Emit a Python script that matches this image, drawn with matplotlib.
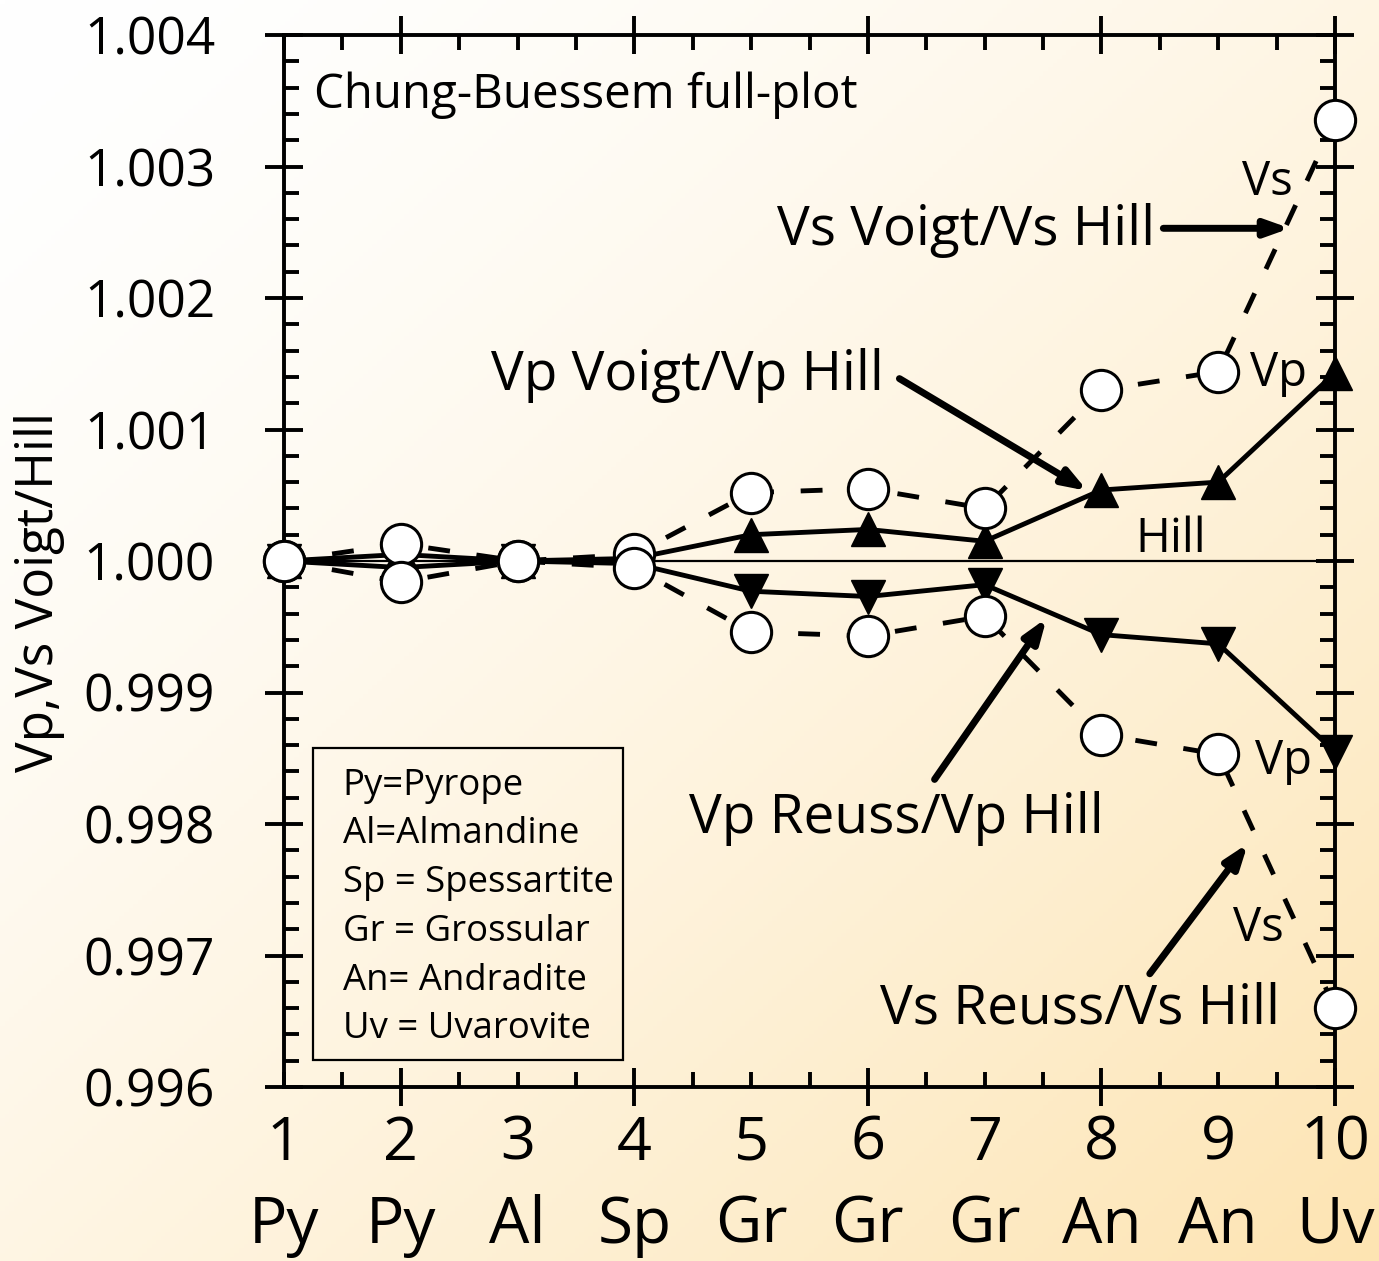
import matplotlib
matplotlib.use("Agg")
import matplotlib.pyplot as plt
import numpy as np
from matplotlib.ticker import MultipleLocator, FormatStrFormatter
from matplotlib.transforms import blended_transform_factory
from matplotlib.patches import Rectangle

plt.rcParams['font.family'] = ['Open Sans', 'DejaVu Sans']

# Garnet end-member sequence
x = [1, 2, 3, 4, 5, 6, 7, 8, 9, 10]
minerals = ['Py', 'Py', 'Al', 'Sp', 'Gr', 'Gr', 'Gr', 'An', 'An', 'Uv']

# Voigt/Hill and Reuss/Hill ratios
vp_voigt = [1.0000, 1.00005, 1.0000, 1.00002, 1.00020, 1.00024, 1.00015, 1.00054, 1.00060, 1.00143]
vp_reuss = [1.0000, 0.99995, 1.0000, 0.99998, 0.99977, 0.99973, 0.99982, 0.99944, 0.99937, 0.99855]
vs_voigt = [1.0000, 1.00013, 1.0000, 1.00005, 1.00052, 1.00055, 1.00040, 1.00130, 1.00144, 1.00335]
vs_reuss = [1.0000, 0.99984, 1.0000, 0.99995, 0.99946, 0.99943, 0.99958, 0.99868, 0.99853, 0.99660]

legend_lines = ['Py=Pyrope', 'Al=Almandine', 'Sp = Spessartite',
                'Gr = Grossular', 'An= Andradite', 'Uv = Uvarovite']

fig = plt.figure(figsize=(13.79, 12.61), dpi=100)

# soft diagonal background wash
bg = fig.add_axes([0, 0, 1, 1], zorder=-10)
gx, gy = np.meshgrid(np.linspace(0, 1, 300), np.linspace(0, 1, 300))
t = np.clip((gx + gy) / 2, 0, 1) ** 1.5
c0 = np.array([255, 255, 255]) / 255
c1 = np.array([253, 228, 178]) / 255
img = c0[None, None, :] * (1 - t[..., None]) + c1[None, None, :] * t[..., None]
bg.imshow(img, aspect='auto', extent=[0, 1, 0, 1], origin='upper')
bg.axis('off')

W, H = 1379, 1261
ax = fig.add_axes([284 / W, 1 - 1087 / H, (1335 - 284) / W, (1087 - 35) / H])
ax.set_facecolor('none')

lw = 3.5
ax.axhline(1.0, color='k', lw=1.6, zorder=2)

ax.plot(x, vp_voigt, '-', color='k', lw=lw, zorder=2)
ax.plot(x, vp_reuss, '-', color='k', lw=lw, zorder=2)
ax.plot(x, vs_voigt, '--', color='k', lw=lw, dashes=(4.5, 5.5), zorder=2)
ax.plot(x, vs_reuss, '--', color='k', lw=lw, dashes=(4.5, 5.5), zorder=2)

ax.plot(x, vp_voigt, '^', ms=24, color='k', mec='k', zorder=3, clip_on=False)
ax.plot(x, vp_reuss, 'v', ms=24, color='k', mec='k', zorder=3, clip_on=False)
ax.plot(x, vs_voigt, 'o', ms=29, mfc='white', mec='k', mew=2.2, zorder=4, clip_on=False)
ax.plot(x, vs_reuss, 'o', ms=29, mfc='white', mec='k', mew=2.2, zorder=4, clip_on=False)

ax.set_xlim(1, 10)
ax.set_ylim(0.996, 1.004)

ax.xaxis.set_major_locator(MultipleLocator(2))
ax.xaxis.set_minor_locator(MultipleLocator(0.5))
ax.yaxis.set_major_locator(MultipleLocator(0.001))
ax.yaxis.set_minor_locator(MultipleLocator(0.0002))
ax.yaxis.set_major_formatter(FormatStrFormatter('%.3f'))

ax.tick_params(which='major', direction='inout', length=27, width=2.8,
               top=True, right=True, labelsize=37, pad=36)
ax.tick_params(which='minor', direction='in', length=11, width=2.8,
               top=True, right=True)
ax.tick_params(axis='x', labelbottom=False)
for s in ax.spines.values():
    s.set_linewidth(2.8)

# two rows of x labels: index and mineral
tr = blended_transform_factory(ax.transData, ax.transAxes)
for xi, m in zip(x, minerals):
    ax.text(xi, -0.054, str(xi), transform=tr, ha='center', va='center', fontsize=44)
    ax.text(xi, -0.132, m, transform=tr, ha='center', va='center', fontsize=46)

ax.set_ylabel('Vp,Vs Voigt/Hill', fontsize=37, va='center')
ax.yaxis.set_label_coords(-0.233, 0.4705)

ax.text(1.257, 1.003543, 'Chung-Buessem full-plot', fontsize=34.2, va='center', ha='left')

big = 39.5
arrow = dict(arrowstyle='-|>,head_length=1.4,head_width=0.5', lw=5, color='k',
             shrinkA=0, shrinkB=0)
ax.annotate('', xy=(9.614, 1.00253), xytext=(8.53, 1.00253), arrowprops=arrow, zorder=5)
ax.text(8.457, 1.002514, 'Vs Voigt/Vs Hill', fontsize=big, ha='right', va='center')
ax.annotate('', xy=(7.88, 1.000533), xytext=(6.27, 1.001387), arrowprops=arrow, zorder=5)
ax.text(2.774, 1.00141, 'Vp Voigt/Vp Hill', fontsize=big, ha='left', va='center')
ax.annotate('', xy=(7.531, 0.999566), xytext=(6.571, 0.998339), arrowprops=arrow, zorder=5)
ax.text(4.471, 0.998042, 'Vp Reuss/Vp Hill', fontsize=big, ha='left', va='center')
ax.annotate('', xy=(9.254, 0.997851), xytext=(8.414, 0.996861), arrowprops=arrow, zorder=5)
ax.text(6.1, 0.996594, 'Vs Reuss/Vs Hill', fontsize=big, ha='left', va='center')

ax.text(8.594, 1.000165, 'Hill', fontsize=34, ha='center', va='center')
ax.text(9.417, 1.00288, 'Vs', fontsize=34, ha='center', va='center')
ax.text(9.52, 1.001425, 'Vp', fontsize=34, ha='center', va='center')
ax.text(9.563, 0.998476, 'Vp', fontsize=34, ha='center', va='center')
ax.text(9.348, 0.997204, 'Vs', fontsize=34, ha='center', va='center')

# abbreviation key
ax.add_patch(Rectangle((0.0276, 0.0257), 0.2949, 0.2963, transform=ax.transAxes,
                       fill=False, lw=1.6, ec='k', zorder=5))
key_y = [0.286, 0.2405, 0.194, 0.1474, 0.1008, 0.0551]
for yy, s in zip(key_y, legend_lines):
    ax.text(0.056, yy, s, transform=ax.transAxes, fontsize=26.3, ha='left', va='center')

fig.savefig('out.png', dpi=100)
